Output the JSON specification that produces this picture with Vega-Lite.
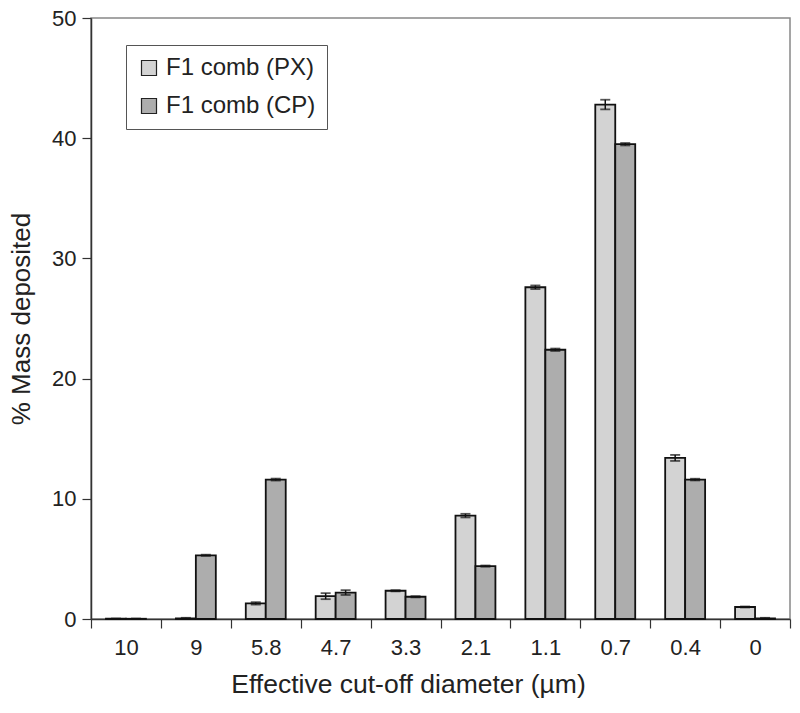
{
  "$schema": "https://vega.github.io/schema/vega-lite/v6.json",
  "width": 699,
  "height": 601,
  "autosize": {"type": "none"},
  "padding": {"left": 91, "top": 18, "right": 10, "bottom": 94},
  "background": "white",
  "config": {
    "font": "Liberation Sans",
    "view": {"stroke": "#888888", "strokeWidth": 1.5}
  },
  "data": {
    "values": [
      {"d": "10", "s": "F1 comb (PX)", "v": 0.02, "lo": 0.0, "hi": 0.04},
      {"d": "10", "s": "F1 comb (CP)", "v": 0.02, "lo": 0.0, "hi": 0.04},
      {"d": "9", "s": "F1 comb (PX)", "v": 0.05, "lo": 0.0, "hi": 0.1},
      {"d": "9", "s": "F1 comb (CP)", "v": 5.3, "lo": 5.25, "hi": 5.35},
      {"d": "5.8", "s": "F1 comb (PX)", "v": 1.3, "lo": 1.2, "hi": 1.4},
      {"d": "5.8", "s": "F1 comb (CP)", "v": 11.6, "lo": 11.52, "hi": 11.68},
      {"d": "4.7", "s": "F1 comb (PX)", "v": 1.9, "lo": 1.65, "hi": 2.15},
      {"d": "4.7", "s": "F1 comb (CP)", "v": 2.2, "lo": 2.0, "hi": 2.4},
      {"d": "3.3", "s": "F1 comb (PX)", "v": 2.35, "lo": 2.3, "hi": 2.4},
      {"d": "3.3", "s": "F1 comb (CP)", "v": 1.85, "lo": 1.8, "hi": 1.9},
      {"d": "2.1", "s": "F1 comb (PX)", "v": 8.6, "lo": 8.45, "hi": 8.75},
      {"d": "2.1", "s": "F1 comb (CP)", "v": 4.4, "lo": 4.35, "hi": 4.45},
      {"d": "1.1", "s": "F1 comb (PX)", "v": 27.6, "lo": 27.45, "hi": 27.75},
      {"d": "1.1", "s": "F1 comb (CP)", "v": 22.4, "lo": 22.3, "hi": 22.5},
      {"d": "0.7", "s": "F1 comb (PX)", "v": 42.8, "lo": 42.4, "hi": 43.2},
      {"d": "0.7", "s": "F1 comb (CP)", "v": 39.5, "lo": 39.4, "hi": 39.6},
      {"d": "0.4", "s": "F1 comb (PX)", "v": 13.4, "lo": 13.15, "hi": 13.65},
      {"d": "0.4", "s": "F1 comb (CP)", "v": 11.6, "lo": 11.53, "hi": 11.67},
      {"d": "0", "s": "F1 comb (PX)", "v": 1.0, "lo": 0.96, "hi": 1.04},
      {"d": "0", "s": "F1 comb (CP)", "v": 0.05, "lo": 0.0, "hi": 0.1}
    ]
  },
  "encoding": {
    "x": {
      "field": "d",
      "type": "nominal",
      "sort": ["10", "9", "5.8", "4.7", "3.3", "2.1", "1.1", "0.7", "0.4", "0"],
      "scale": {"paddingInner": 0, "paddingOuter": 0},
      "axis": {
        "title": "Effective cut-off diameter (µm)",
        "titleFontSize": 26.5,
        "titleFontWeight": "normal",
        "titleColor": "#222222",
        "titlePadding": 13,
        "titleX": 317,
        "titleAlign": "center",
        "labelFontSize": 22,
        "labelColor": "#222222",
        "labelAngle": 0,
        "labelPadding": 9,
        "tickBand": "extent",
        "tickSize": 9,
        "tickColor": "#333333",
        "domainColor": "#333333",
        "domainWidth": 1.5,
        "tickWidth": 1.2
      }
    },
    "xOffset": {
      "field": "s",
      "type": "nominal",
      "sort": ["F1 comb (PX)", "F1 comb (CP)"],
      "scale": {"paddingInner": 0, "paddingOuter": 0.75}
    }
  },
  "layer": [
    {
      "mark": {"type": "bar", "stroke": "#111111", "strokeWidth": 1.8},
      "encoding": {
        "y": {
          "field": "v",
          "type": "quantitative",
          "scale": {"domain": [0, 50], "nice": false},
          "axis": {
            "title": "% Mass deposited",
            "titleFontSize": 26,
            "titleFontWeight": "normal",
            "titleColor": "#222222",
            "titlePadding": 17,
            "labelFontSize": 22,
            "labelColor": "#222222",
            "labelPadding": 6,
            "values": [0, 10, 20, 30, 40, 50],
            "grid": false,
            "tickSize": 9,
            "tickColor": "#333333",
            "domainColor": "#333333",
            "domainWidth": 1.5,
            "tickWidth": 1.2
          }
        },
        "fill": {
          "field": "s",
          "type": "nominal",
          "sort": ["F1 comb (PX)", "F1 comb (CP)"],
          "scale": {"range": ["#d3d3d3", "#adadad"]},
          "legend": {
            "title": null,
            "orient": "none",
            "legendX": 35,
            "legendY": 27,
            "labelFontSize": 24,
            "labelColor": "#222222",
            "symbolType": "square",
            "symbolSize": 225,
            "symbolStrokeColor": "#222222",
            "symbolStrokeWidth": 1.2,
            "rowPadding": 14,
            "labelOffset": 5,
            "padding": 11,
            "strokeColor": "#555555",
            "fillColor": "white"
          }
        }
      }
    },
    {
      "mark": {"type": "rule", "stroke": "#111111", "strokeWidth": 1.5},
      "encoding": {
        "y": {"field": "lo", "type": "quantitative"},
        "y2": {"field": "hi"}
      }
    },
    {
      "mark": {"type": "tick", "color": "#111111", "size": 10, "thickness": 1.8, "orient": "horizontal"},
      "encoding": {"y": {"field": "lo", "type": "quantitative"}}
    },
    {
      "mark": {"type": "tick", "color": "#111111", "size": 10, "thickness": 1.8, "orient": "horizontal"},
      "encoding": {"y": {"field": "hi", "type": "quantitative"}}
    }
  ]
}
